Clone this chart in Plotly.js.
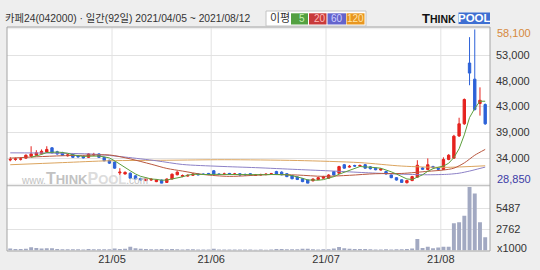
<!DOCTYPE html>
<html><head><meta charset="utf-8">
<script src="https://cdn.plot.ly/plotly-3.0.1.min.js"></script>
<style>html,body{margin:0;padding:0;background:#eeeeee}#chart{width:540px;height:270px}</style>
</head><body><div id="chart"></div>
<script>
// ---- data ----
const monthLabels = ['21/05','21/06','21/07','21/08'];
const monthStartIdx = [20, 39, 61, 83];
const open = [33350,33450,33500,33700,34050,34250,34550,34850,35650,34900,
  34700,34150,34400,34100,34000,33850,34300,34500,33850,33300,
  32950,30900,30700,30850,30350,29850,29450,29550,29250,29550,
  29100,29750,30550,30250,30300,30450,30700,30700,30800,31300,
  30700,30650,30800,30650,30750,30600,30750,30450,30500,30600,
  30650,31150,31050,30750,30400,30150,29800,29550,29400,29650,
  29900,29900,31150,30850,32450,32000,32300,32200,32450,32050,
  31800,31450,31150,30500,30000,29600,29050,29450,30100,31850,
  31550,32100,31800,31550,33450,33700,37900,40200,51700,48650,
  44050,43850];
const high = [33900,33800,33850,34400,35950,35200,35350,35950,35800,35100,
  34900,34500,34550,34300,34200,34650,34700,34600,33950,33400,
  33050,31800,31200,31000,30450,30000,30000,29900,29700,29650,
  29850,30800,31200,30600,30600,30850,30850,30800,30900,31450,
  30850,30950,30900,30900,30850,30800,30850,30700,30750,30850,
  30900,31300,31200,30850,30500,30250,29900,29650,29850,30100,
  30350,30650,31250,32250,32600,32400,32450,32500,32600,32200,
  31950,31800,31300,30600,30100,29700,29600,30350,33300,32000,
  33650,32250,31950,33850,34450,38100,41350,45000,56600,58100,
  47100,44050];
const low = [33100,33200,33250,33600,33950,34100,34400,34700,34600,34350,
  34150,34000,33750,33800,33650,33750,34150,33750,33100,32600,
  31700,30500,30600,29800,29650,29450,29350,29400,29150,28900,
  29000,29650,30450,30100,30200,30350,30450,30500,30550,30550,
  30500,30500,30600,30500,30400,30400,30400,30350,30400,30450,
  30550,30500,30450,30100,29700,29550,29150,28900,29300,29550,
  29800,29800,30400,30700,31700,31900,32050,32100,31700,31550,
  31400,31350,30600,29900,29450,29000,28850,29350,30000,31450,
  31400,31800,31450,31450,33300,33550,37700,40000,47500,42700,
  41750,40000];
const close = [33450,33550,33550,34250,34500,34700,35000,35350,34700,34500,
  34250,34300,33850,33950,33750,34500,34400,33850,33200,32750,
  31800,31050,31000,29900,29750,29550,29850,29700,29550,28950,
  29750,30650,31050,30400,30450,30700,30550,30600,30650,30650,
  30600,30700,30700,30700,30500,30550,30500,30500,30600,30650,
  30750,30600,30550,30200,29800,29650,29250,28950,29750,30000,
  30200,30500,30500,32100,31800,32150,32200,32300,31800,31700,
  31500,31650,30700,30000,29550,29100,29450,30200,32350,31600,
  32450,31900,31600,33450,34250,37850,40200,44800,49800,42900,
  44650,40200];
const volume = [250,200,180,230,420,330,250,300,280,200,
  170,160,150,150,140,200,150,170,160,170,
  250,200,230,500,280,230,180,170,160,180,
  160,200,150,140,150,170,140,130,140,220,
  140,120,120,130,120,130,120,110,120,110,
  120,200,180,150,150,170,240,220,150,140,
  150,160,250,450,280,220,200,190,200,150,
  140,130,150,140,160,170,180,250,1500,330,
  500,300,400,500,500,3520,3650,4520,8230,7390,
  3650,1720];
// moving averages (index, value)
const ma20Idx = [0,5,10,15,19,23,27,30,33,37,42,50,55,60,65,70,75,80,83,85,87,89,91];
const ma20    = [33700,33950,34150,34250,34300,33550,32550,31750,31250,30600,30250,30600,30500,30250,30450,30750,30800,31200,31450,31800,32800,34250,35350];
const ma60Idx = [0,8,16,22,28,33,40,47,55,62,68,74,80,84,86,88,90,91];
const ma60    = [34700,34650,34450,33900,33200,32500,32150,31900,31550,31250,30950,30700,30550,30650,30850,31250,31750,32000];
const ma120Idx = [0,10,19,30,41,55,67,75,83,91];
const ma120    = [32450,32850,33200,33300,33400,33250,32850,32200,31950,32250];
const volTickVals = [2762, 5487];
const maNames = ['5','20','60','120'];

// ---- derived ----
const idx = close.map((_, i) => i);
const ma5 = close.map((c, i) => i < 4 ? null : close.slice(i - 4, i + 1).reduce((a, b) => a + b, 0) / 5);
const pMax = Math.max(...high), pMin = Math.min(...low);
const pTicks = [1,2,3,4,5].map(k => pMin + k * (pMax - pMin) / 6);
const fmt = v => v.toLocaleString('en-US');
const pTickText = pTicks.map(v => fmt(Math.round(v / 1000) * 1000));
const vMax = Math.max(...volume);

// ---- pixel helpers for layout ----
const L = 7, R = 490, T = 27, B = 251;
const PX = px => (px - L) / (R - L);
const PY = py => (B - py) / (B - T);
const FONT = 'Liberation Sans, Noto Sans CJK KR, sans-serif';

const RED = '#e5231f', BLUE = '#2d62d8';
const traces = [
  {type:'candlestick', x: idx, open, high, low, close, xaxis:'x', yaxis:'y',
   increasing:{line:{color:RED, width:1}, fillcolor:RED},
   decreasing:{line:{color:BLUE, width:1}, fillcolor:BLUE},
   whiskerwidth:0, hoverinfo:'skip', showlegend:false},
  {type:'scatter', mode:'lines', x: ma120Idx, y: ma120, yaxis:'y', line:{color:'#dba45e', width:1, shape:'spline', smoothing:0.8}, hoverinfo:'skip'},
  {type:'scatter', mode:'lines', x: ma60Idx, y: ma60, yaxis:'y', line:{color:'#8c80c6', width:1, shape:'spline', smoothing:0.8}, hoverinfo:'skip'},
  {type:'scatter', mode:'lines', x: ma20Idx, y: ma20, yaxis:'y', line:{color:'#b9573f', width:1, shape:'spline', smoothing:0.8}, hoverinfo:'skip'},
  {type:'scatter', mode:'lines', x: idx, y: ma5, yaxis:'y', line:{color:'#5c9e3c', width:1}, hoverinfo:'skip'},
  {type:'bar', x: idx, y: volume, xaxis:'x', yaxis:'y2', marker:{color:'#a2a9c2', line:{width:0}}, hoverinfo:'skip'}
];

const tickvals = monthStartIdx.map(i => i - 0.5);
const shapes = tickvals.map(t => ({type:'line', xref:'x', yref:'paper', x0:t, x1:t, y0:0, y1:1, line:{color:'#e2e2e2', width:1}, layer:'below'}));
shapes.push({type:'line', xref:'paper', yref:'paper', x0:0, x1:1, y0:PY(185.5), y1:PY(185.5), line:{color:'#c4c4c4', width:1}});
shapes.push({type:'rect', xref:'paper', yref:'paper', x0:0, x1:1, y0:0, y1:1, line:{color:'#a4a4a4', width:1}});
// legend box
shapes.push({type:'rect', xref:'paper', yref:'paper', x0:PX(266), x1:PX(366), y0:PY(26), y1:PY(11), fillcolor:'#ffffff', line:{color:'#c4c4c4', width:1}});
const boxes = [[291,308,'#53a041','#c6f2b4'],[309,326.5,'#c83a3a','#ffb8b8'],[327.5,346,'#6464cc','#d0d0ff'],[346.5,364.5,'#e8961f','#ffe3a8']];
boxes.forEach(b => shapes.push({type:'rect', xref:'paper', yref:'paper', x0:PX(b[0]), x1:PX(b[1]), y0:PY(24.5), y1:PY(13.3), fillcolor:b[2], line:{width:0}}));
// logo box
shapes.push({type:'rect', xref:'paper', yref:'paper', x0:PX(458.5), x1:PX(490), y0:PY(24), y1:PY(12.5), fillcolor:'#3e6fd2', line:{width:0}});

const ann = [];
ann.push({xref:'paper', yref:'paper', x:PX(3), y:PY(18.5), xanchor:'left', yanchor:'middle', showarrow:false,
  text:'카페24(042000) · 일간(92일) 2021/04/05 ~ 2021/08/12', font:{family:FONT, size:10.3, color:'#333333'}});
ann.push({xref:'paper', yref:'paper', x:PX(268), y:PY(18.5), xanchor:'left', yanchor:'middle', showarrow:false,
  text:'이평', font:{family:FONT, size:11, color:'#333333'}});
boxes.forEach((b, i) => ann.push({xref:'paper', yref:'paper', x:PX((b[0] + b[1]) / 2 + (i < 2 ? 2 : 0)), y:PY(18.8), xanchor:'center', yanchor:'middle', showarrow:false,
  text: maNames[i], font:{family:FONT, size:10, color:b[3]}}));
ann.push({xref:'paper', yref:'paper', x:PX(458), y:PY(18.5), xanchor:'right', yanchor:'middle', showarrow:false,
  text:'<b>T<span style="font-size:10.5px">HINK</span></b>', font:{family:'Liberation Sans, sans-serif', size:13, color:'#111111'}});
ann.push({xref:'paper', yref:'paper', x:PX(474.3), y:PY(18.5), xanchor:'center', yanchor:'middle', showarrow:false,
  text:'<b>POOL</b>', font:{family:'Liberation Sans, sans-serif', size:11.5, color:'#ffffff'}});
// watermark
ann.push({xref:'paper', yref:'paper', x:PX(19), y:PY(178), xanchor:'left', yanchor:'middle', showarrow:false,
  text:'<span style="font-size:10px">www.</span><b>T<span style="font-size:13px">HINK</span></b><b><span style="fill:#dcdcdc">P<span style="font-size:13px">OOL</span></span></b><span style="font-size:10px">.com</span>',
  font:{family:'Liberation Sans, sans-serif', size:16, color:'#c2c2c2'}});
// top / bottom price labels
ann.push({xref:'paper', yref:'y', x:1, y:pMax, xanchor:'left', yanchor:'middle', xshift:5, yshift:-4, showarrow:false,
  text: fmt(pMax), font:{family:FONT, size:11, color:'#d6893c'}});
ann.push({xref:'paper', yref:'y', x:1, y:pMin, xanchor:'left', yanchor:'middle', xshift:5, yshift:5, showarrow:false,
  text: fmt(pMin), font:{family:FONT, size:11, color:'#3c3ca6'}});
ann.push({xref:'paper', yref:'y2', x:1, y:0, xanchor:'left', yanchor:'middle', xshift:5, yshift:3, showarrow:false,
  text:'x1000', font:{family:FONT, size:11, color:'#333333'}});

const layout = {
  width:540, height:270, margin:{l:L, r:540 - R, t:T, b:270 - B, pad:0},
  paper_bgcolor:'#eeeeee', plot_bgcolor:'#ffffff', showlegend:false,
  bargap:0.25, boxgap:0.35,
  xaxis:{range:[-0.62, 91.92], tickvals, ticktext:monthLabels, showgrid:false, zeroline:false, showline:false,
    ticks:'', anchor:'y2', rangeslider:{visible:false}, fixedrange:true,
    tickfont:{family:FONT, size:11, color:'#333333'}},
  yaxis:{domain:[PY(183.75), PY(29.25)], range:[pMin, pMax], side:'right', anchor:'x',
    tickvals:pTicks, ticktext:pTickText, showgrid:true, gridcolor:'#e2e2e2', zeroline:false, showline:false,
    ticks:'', ticklabelstandoff:5, tickfont:{family:FONT, size:11, color:'#333333'}, fixedrange:true},
  yaxis2:{domain:[PY(250.5), PY(187)], range:[0, vMax], side:'right', anchor:'x',
    tickvals:volTickVals, ticktext:volTickVals.map(String), showgrid:true, gridcolor:'#e2e2e2', zeroline:false, showline:false,
    ticks:'', ticklabelstandoff:5, tickfont:{family:FONT, size:11, color:'#333333'}, fixedrange:true},
  shapes, annotations: ann
};
Plotly.newPlot('chart', traces, layout, {staticPlot:true, displayModeBar:false});
</script></body></html>
